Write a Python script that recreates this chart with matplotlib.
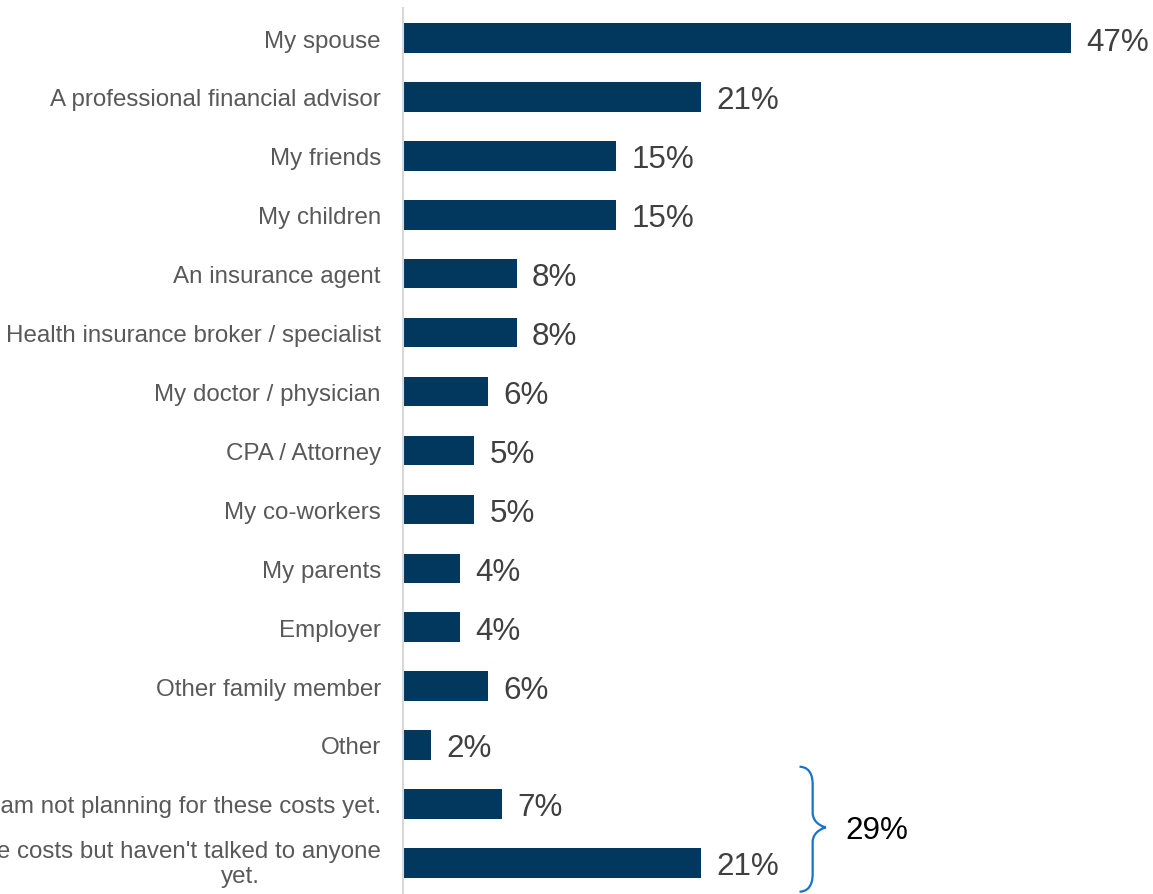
import matplotlib.pyplot as plt
import numpy as np
from matplotlib.path import Path
from matplotlib.patches import PathPatch
from matplotlib.transforms import blended_transform_factory, offset_copy

plt.rcParams["font.family"] = ["Liberation Sans", "DejaVu Sans"]

CATEGORIES = [
    "My spouse",
    "A professional financial advisor",
    "My friends",
    "My children",
    "An insurance agent",
    "Health insurance broker / specialist",
    "My doctor / physician",
    "CPA / Attorney",
    "My co-workers",
    "My parents",
    "Employer",
    "Other family member",
    "Other",
    "I am not planning for these costs yet.",
    "I am planning for these costs but haven't talked to anyone yet.",
]
VALUES = [47, 21, 15, 15, 8, 8, 6, 5, 5, 4, 4, 6, 2, 7, 21]

# the last two answers are grouped by a brace with their combined share
GROUP_START = 13
GROUP_TOTAL = 29

BAR_COLOR = "#02375e"
LABEL_COLOR = "#595959"
VALUE_COLOR = "#404040"
BRACE_COLOR = "#1a73c9"

LABEL_SIZE = 17.4
VALUE_SIZE = 22.6


def draw_brace(ax, x_left, x_tip, y_top, y_bottom, y_tip):
    x_mid = (x_left + x_tip) / 2
    bend = 0.25
    verts = [
        (x_left, y_top),
        (x_mid, y_top), (x_mid, y_top + bend), (x_mid, y_top + bend * 1.2),
        (x_mid, y_tip - bend),
        (x_mid, y_tip - 0.05), (x_tip, y_tip), (x_tip, y_tip),
        (x_tip, y_tip), (x_mid, y_tip + 0.05), (x_mid, y_tip + bend),
        (x_mid, y_bottom - bend * 1.2),
        (x_mid, y_bottom - bend), (x_mid, y_bottom), (x_left, y_bottom),
    ]
    codes = [
        Path.MOVETO,
        Path.CURVE4, Path.CURVE4, Path.CURVE4,
        Path.LINETO,
        Path.CURVE4, Path.CURVE4, Path.CURVE4,
        Path.CURVE4, Path.CURVE4, Path.CURVE4,
        Path.LINETO,
        Path.CURVE4, Path.CURVE4, Path.CURVE4,
    ]
    patch = PathPatch(Path(verts, codes), facecolor="none", edgecolor=BRACE_COLOR,
                      linewidth=1.6, clip_on=False)
    ax.add_patch(patch)


fig = plt.figure(figsize=(11.53, 8.95), dpi=100)
ax = fig.add_axes([403 / 1153, 0.0, 710.6 / 1153, 886 / 895])

y = np.arange(len(CATEGORIES))
ax.barh(y, VALUES, height=0.5, color=BAR_COLOR)

ax.set_xlim(0, 50)
ax.set_ylim(14.53, -0.51)

for spine in ("top", "right", "bottom"):
    ax.spines[spine].set_visible(False)
ax.spines["left"].set_color("#d9d9d9")
ax.spines["left"].set_linewidth(1.5)
ax.set_xticks([])
ax.set_yticks(y)
ax.set_yticklabels(CATEGORIES[:-1] + [""], fontsize=LABEL_SIZE, color=LABEL_COLOR)
ax.tick_params(axis="y", length=0, pad=16)

# the long last answer wraps onto two lines
trans = blended_transform_factory(ax.transAxes, ax.transData)
first_line, second_line = CATEGORIES[-1].rsplit(" ", 1)
ax.text(0, y[-1] - 0.2, first_line,
        transform=offset_copy(trans, fig=fig, x=-22, units="dots"),
        ha="right", va="center", fontsize=LABEL_SIZE, color=LABEL_COLOR)
ax.text(0, y[-1] + 0.22, second_line,
        transform=offset_copy(trans, fig=fig, x=-163, units="dots"),
        ha="center", va="center", fontsize=LABEL_SIZE, color=LABEL_COLOR)

for yi, v in zip(y, VALUES):
    ax.annotate(f"{v}%", (v, yi), xytext=(11, -2.5), textcoords="offset points",
                ha="left", va="center", fontsize=VALUE_SIZE, color=VALUE_COLOR)

y_top = GROUP_START - 0.63
y_bottom = len(CATEGORIES) - 1 + 0.49
y_tip = GROUP_START + 0.4
draw_brace(ax, 27.9, 29.75, y_top, y_bottom, y_tip)
ax.annotate(f"{GROUP_TOTAL}%", (29.75, y_tip), xytext=(14, -1.5), textcoords="offset points",
            ha="left", va="center", fontsize=VALUE_SIZE, color="black")

fig.savefig("out.png", dpi=100)
